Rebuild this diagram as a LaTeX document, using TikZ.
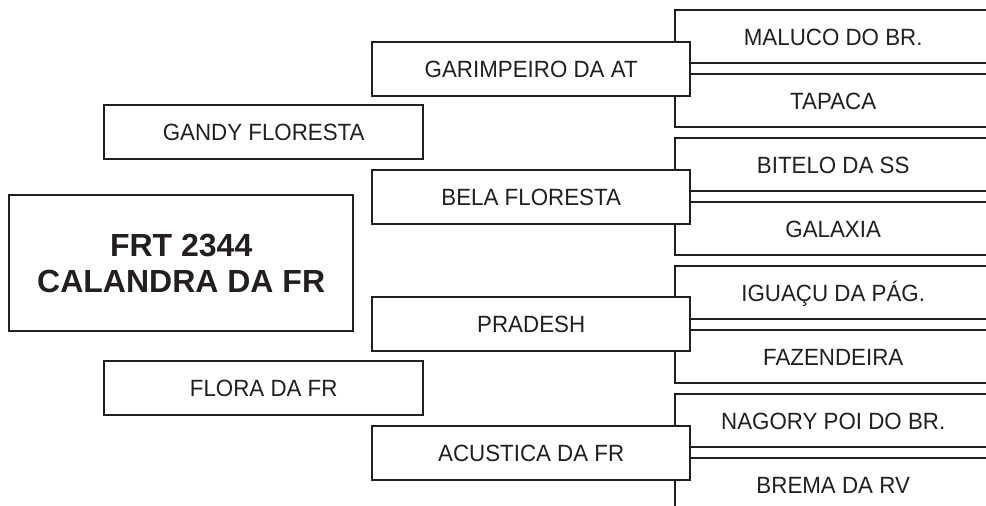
\documentclass[tikz,border=0pt]{standalone}
\usepackage{fontspec}
\setmainfont{Liberation Sans}
\newfontfamily\regfont{Liberation Sans}[FakeStretch=0.95]
\definecolor{ink}{HTML}{231F20}
\begin{document}
\begin{tikzpicture}[x=1pt,y=-1pt,
  box/.style={draw=ink,line width=2.4pt,rectangle,inner sep=0pt,
    text=ink,align=center,font=\regfont\fontsize{23.5}{28}\selectfont,
    text height=16.8pt,text depth=0pt},
  sire/.style={box,minimum width=316pt,minimum height=53pt,anchor=north west},
  parent/.style={box,fill=white,minimum width=318pt,minimum height=54pt,anchor=north west},
  grand/.style={box,fill=white,minimum width=319pt,minimum height=54pt,anchor=north west},
  main/.style={box,minimum width=344pt,minimum height=136pt,anchor=north west,
    font=\bfseries\fontsize{32}{36}\selectfont,text height=,text depth=}]
\useasboundingbox (0,0) rectangle (986,506);
\clip (0,0) rectangle (986,506);
% outer column
\node[sire] (g1) at (674,9) {MALUCO DO BR.};
\node[sire] (g2) at (674,73) {TAPACA};
\node[sire] (g3) at (674,137) {BITELO DA SS};
\node[sire] (g4) at (674,201) {GALAXIA};
\node[sire] (g5) at (674,265) {IGUAÇU DA PÁG.};
\node[sire] (g6) at (674,329) {FAZENDEIRA};
\node[sire] (g7) at (674,393) {NAGORY POI DO BR.};
\node[sire] (g8) at (674,457) {BREMA DA RV};
% middle column
\node[parent] (p1) at (371,41) {GARIMPEIRO DA AT};
\node[parent] (p2) at (371,169) {BELA FLORESTA};
\node[parent] (p3) at (371,296) {PRADESH};
\node[parent] (p4) at (371,425) {ACUSTICA DA FR};
% left column
\node[grand] (s1) at (103,104) {GANDY FLORESTA};
\node[grand] (s2) at (103,360) {FLORA DA FR};
\node[main] (m) at (8,194) {FRT 2344\\CALANDRA DA FR};
\end{tikzpicture}
\end{document}
